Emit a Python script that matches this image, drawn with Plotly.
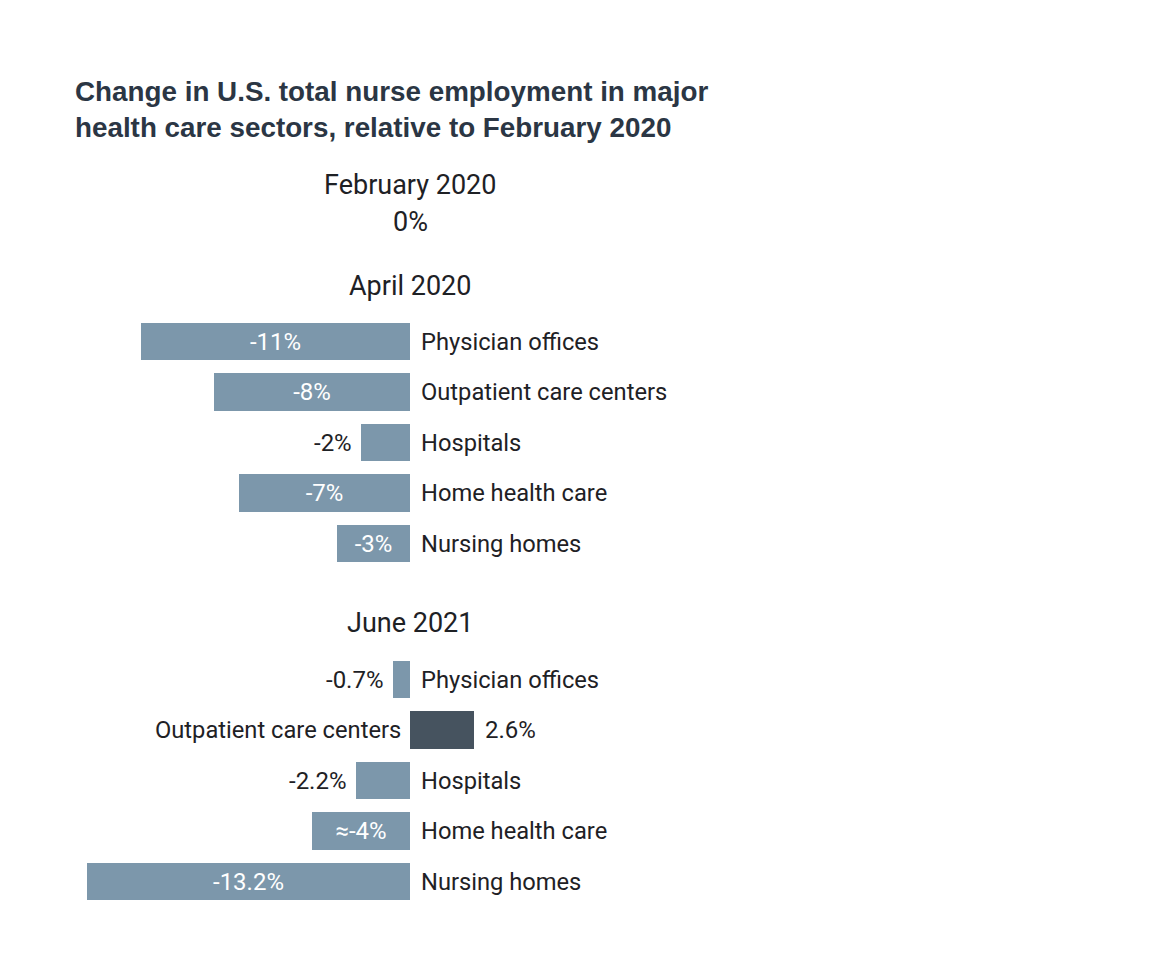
import plotly.graph_objects as go

# ---- data ----
sectors = ["Physician offices", "Outpatient care centers", "Hospitals",
           "Home health care", "Nursing homes"]
april_2020 = [-11, -8, -2, -7, -3]
april_labels = ["-11%", "-8%", "-2%", "-7%", "-3%"]
june_2021 = [-0.7, 2.6, -2.2, -4, -13.2]
june_labels = ["-0.7%", "2.6%", "-2.2%", "≈-4%", "-13.2%"]
baseline_label = "February 2020"
baseline_value = "0%"
group_titles = ["April 2020", "June 2021"]
title_lines = ["Change in U.S. total nurse employment in major",
               "health care sectors, relative to February 2020"]

# ---- styles / layout ----
W, H = 1152, 972
BODY = 8  # page body margin offset
zero_px = 410 - BODY
px_per_pct = 24.5
light = "#7c97ab"
dark = "#46535f"
text_col = "#1e2125"
font_fam = "Roboto"
pitch = 50.5
april_start = 341.5 - BODY
june_start = 679.5 - BODY
lab_size = 23.7
val_size = 24
head_size = 27

def ypos(start, n):
    return [start + i * pitch for i in range(n)]

fig = go.Figure()

def add_group(values, labels, start):
    ys = ypos(start, len(values))
    colors = [dark if v > 0 else light for v in values]
    inside = [abs(v) * px_per_pct > 70 for v in values]
    fig.add_trace(go.Bar(
        x=values, y=ys, orientation="h", width=37.5,
        marker=dict(color=colors, line=dict(width=0)),
        text=[l if ins else "" for l, ins in zip(labels, inside)],
        textposition=["inside" if ins else "none" for ins in inside],
        insidetextanchor="middle",
        textangle=0, constraintext="none", cliponaxis=False,
        insidetextfont=dict(color="white", size=val_size, family=font_fam),
        hoverinfo="skip", showlegend=False,
    ))
    for lab, v, y, ins in zip(labels, values, ys, inside):
        if not ins:
            fig.add_annotation(x=v, y=y, text=lab, showarrow=False,
                               xanchor="left" if v > 0 else "right",
                               xshift=9 if v > 0 else -7,
                               font=dict(size=val_size, family=font_fam, color=text_col))
    for name, v, y in zip(sectors, values, ys):
        if v >= 0:
            fig.add_annotation(x=0, y=y, text=name, showarrow=False,
                               xanchor="right", xshift=-7,
                               font=dict(size=lab_size, family=font_fam, color=text_col))
        else:
            fig.add_annotation(x=0, y=y, text=name, showarrow=False,
                               xanchor="left", xshift=9,
                               font=dict(size=lab_size, family=font_fam, color=text_col))

add_group(april_2020, april_labels, april_start)
add_group(june_2021, june_labels, june_start)

# headers
for txt, y in [(baseline_label, 185), (baseline_value, 222),
               (group_titles[0], 286), (group_titles[1], 623)]:
    fig.add_annotation(x=0, y=y - BODY, text=txt, showarrow=False, xanchor="center",
                       font=dict(size=head_size, family=font_fam, color=text_col))

fig.add_annotation(
    xref="paper", yref="paper", x=(75 - BODY - 2) / W, y=1 - (74 - BODY) / H,
    xanchor="left", yanchor="top",
    text="<b>" + "<br>".join(title_lines) + "</b>", showarrow=False, align="left",
    font=dict(size=27.8, family="Arial", color="#2b3644"),
)

x_left = -zero_px / px_per_pct
x_right = (W - zero_px) / px_per_pct
fig.update_layout(
    width=W, height=H, margin=dict(l=0, r=0, t=0, b=0),
    paper_bgcolor="white", plot_bgcolor="white", bargap=0,
    xaxis=dict(range=[x_left, x_right], visible=False, fixedrange=True),
    yaxis=dict(range=[H, 0], visible=False, fixedrange=True),
)

fig.write_html("out.html")
